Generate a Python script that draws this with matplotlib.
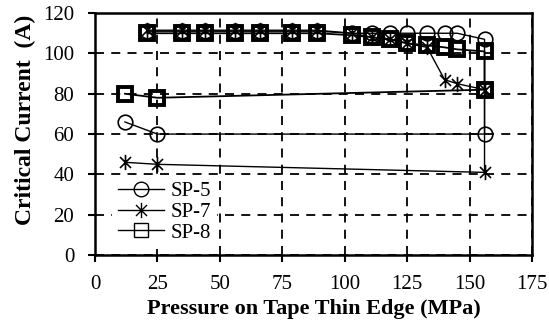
import matplotlib
matplotlib.use("Agg")
import matplotlib.pyplot as plt
from matplotlib.path import Path
from matplotlib.lines import Line2D

plt.rcParams['font.family'] = ['Liberation Serif', 'DejaVu Serif']

# Pressure sequence (load up, then release back down)
pressure = [21, 35, 44, 56, 66, 79, 89, 103, 111, 118, 125, 133, 140, 145, 156, 156, 25, 12]

sp5 = [111, 111, 111, 111, 111, 111, 111, 110, 110, 110, 110, 110, 110, 110, 107, 60, 60, 66]
sp7 = [111.5, 111.5, 111.5, 111.5, 111.5, 111.5, 111.5, 110, 108, 107, 105, 103, 87, 85, 82, 41, 45, 46]
sp8 = [110, 110, 110, 110, 110, 110, 110, 109, 108, 107, 105, 104, 103, 102, 101, 82, 78, 80]

labels = ['SP-5', 'SP-7', 'SP-8']
xticks = [0, 25, 50, 75, 100, 125, 150, 175]
yticks = [0, 20, 40, 60, 80, 100, 120]

# six-spoke asterisk: vertical bar plus a diagonal cross
d = 0.72
asterisk = Path(
    [(0, -1), (0, 1), (-d, -d), (d, d), (-d, d), (d, -d)],
    [Path.MOVETO, Path.LINETO, Path.MOVETO, Path.LINETO, Path.MOVETO, Path.LINETO],
)

fig = plt.figure(figsize=(5.49, 3.27), dpi=100)
ax = fig.add_axes([0.173, 0.22, 0.796, 0.74])

ax.plot(pressure, sp5, color='black', lw=1.0, marker='o', ms=10.5,
        mfc='none', mec='black', mew=1.2, zorder=3)
ax.plot(pressure, sp7, color='black', lw=1.0, marker=asterisk, ms=11,
        mfc='none', mec='black', mew=1.2, zorder=3)
ax.plot(pressure, sp8, color='black', lw=1.3, marker='s', ms=10,
        mfc='none', mec='black', mew=2.8, zorder=3)

ax.set_xlim(0, 175)
ax.set_ylim(0, 120)
ax.set_xticks(xticks)
ax.set_yticks(yticks)
ax.tick_params(direction='out', length=5, width=1.5, labelsize=15)
ax.tick_params(axis='x', pad=9)
ax.tick_params(axis='y', pad=10)
ax.grid(True, color='black', linestyle=(0, (5, 4)), linewidth=1.3)
for s in ax.spines.values():
    s.set_linewidth(1.8)

ax.set_xlabel('Pressure on Tape Thin Edge (MPa)', fontsize=16, fontweight='bold', labelpad=4)
ax.set_ylabel('Critical Current  (A)', fontsize=17, fontweight='bold')
ax.yaxis.set_label_coords(-0.135, 0.56)

handles = [
    Line2D([], [], color='black', lw=1.0, marker='o', ms=10.5, mfc='none', mec='black', mew=1.0),
    Line2D([], [], color='black', lw=1.0, marker=asterisk, ms=11, mfc='none', mec='black', mew=1.0),
    Line2D([], [], color='black', lw=1.0, marker='s', ms=10, mfc='none', mec='black', mew=1.0),
]
leg = ax.legend(handles, labels, loc='lower left', bbox_to_anchor=(0.025, 0.0),
                fontsize=15, handlelength=2.2, handletextpad=0.3, labelspacing=0.05,
                borderpad=0.3, borderaxespad=0.3, frameon=True, fancybox=False)
leg.get_frame().set_facecolor('white')
leg.get_frame().set_edgecolor('none')
leg.get_frame().set_alpha(1)
leg.set_zorder(4)

fig.savefig('out.png', dpi=100)
